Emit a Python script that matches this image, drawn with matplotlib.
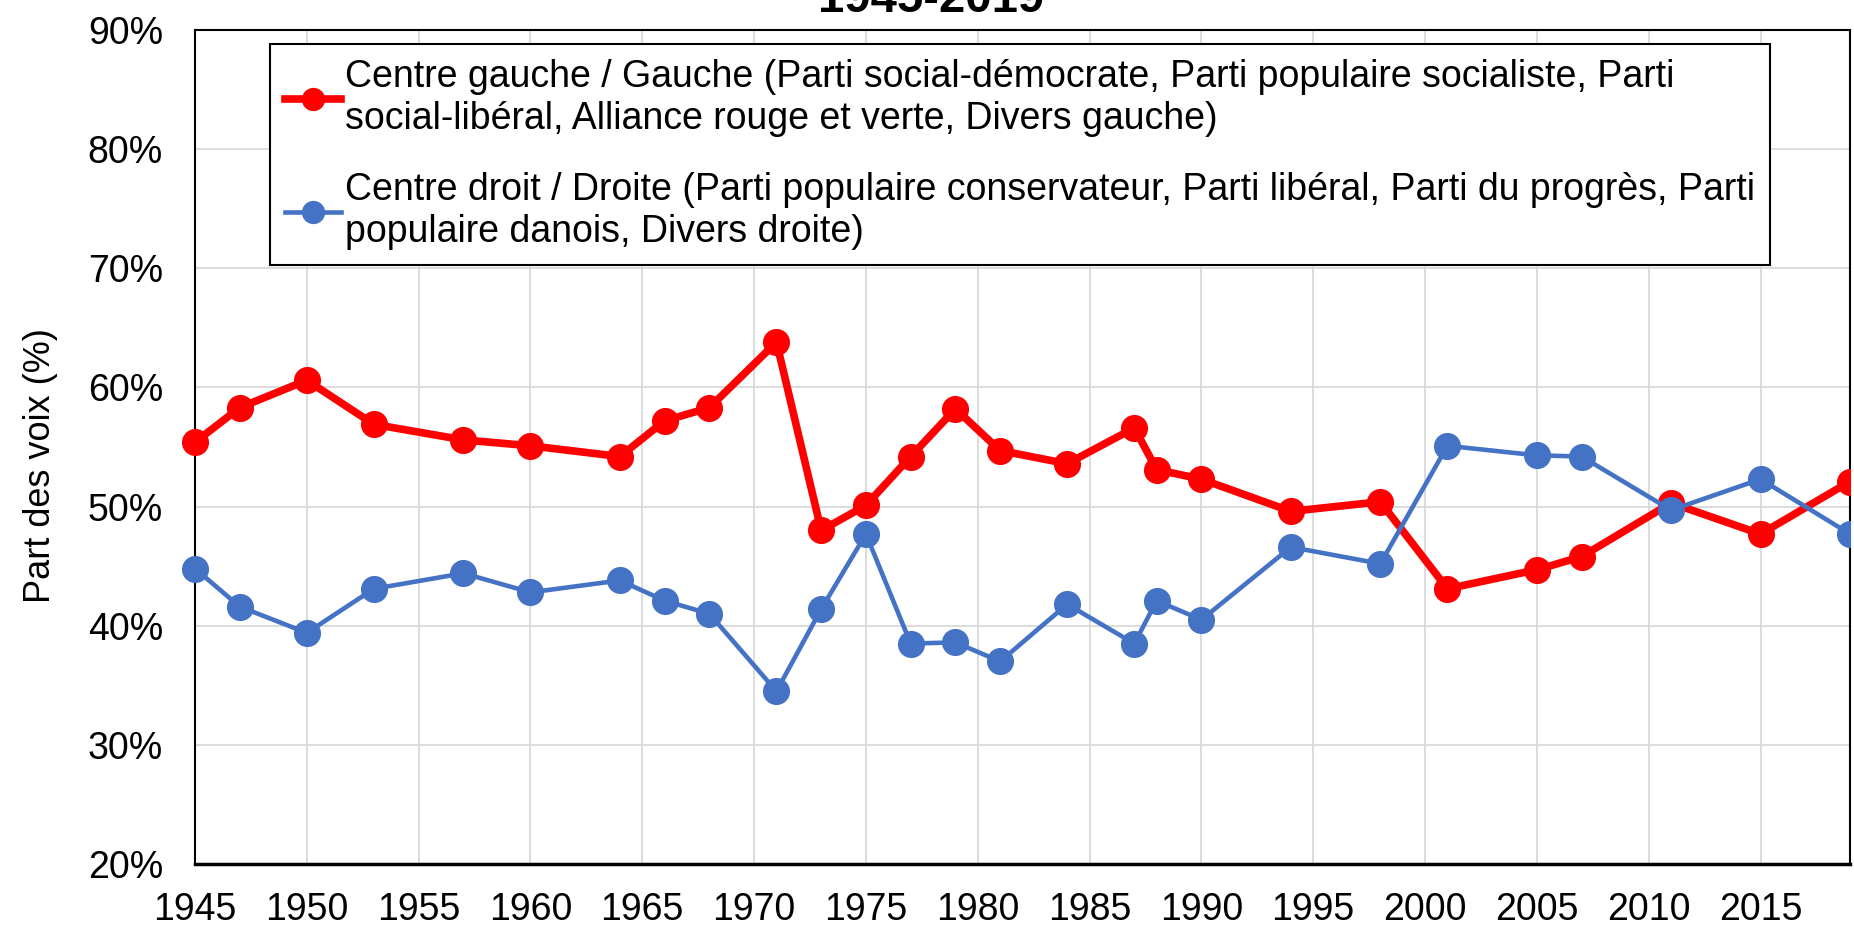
import numpy as np
import matplotlib
matplotlib.use('Agg')
import matplotlib.pyplot as plt
from matplotlib.patches import Rectangle

plt.rcParams['font.family'] = ['Liberation Sans', 'DejaVu Sans']

years = [1945, 1947, 1950, 1953, 1957, 1960, 1964, 1966, 1968, 1971, 1973, 1975,
         1977, 1979, 1981, 1984, 1987, 1988, 1990, 1994, 1998, 2001, 2005, 2007,
         2011, 2015, 2019]
gauche = [55.4, 58.3, 60.6, 56.9, 55.6, 55.1, 54.2, 57.2, 58.3, 63.8, 48.0, 50.1,
          54.2, 58.2, 54.7, 53.6, 56.6, 53.1, 52.3, 49.6, 50.4, 43.1, 44.7, 45.8,
          50.3, 47.7, 52.1]
droite = [44.8, 41.6, 39.4, 43.1, 44.4, 42.8, 43.8, 42.1, 41.0, 34.5, 41.4, 47.7,
          38.5, 38.6, 37.0, 41.8, 38.5, 42.1, 40.5, 46.6, 45.2, 55.1, 54.3, 54.2,
          49.7, 52.3, 47.7]

label_g = ('Centre gauche / Gauche (Parti social-démocrate, Parti populaire socialiste, Parti\n'
           'social-libéral, Alliance rouge et verte, Divers gauche)')
label_d = ('Centre droit / Droite (Parti populaire conservateur, Parti libéral, Parti du progrès, Parti\n'
           'populaire danois, Divers droite)')

RED = '#FF0000'
BLUE = '#4472C4'

fig = plt.figure(figsize=(18.54, 9.26), dpi=100)
ax = fig.add_axes([195 / 1854, 62 / 926, 1655 / 1854, 834 / 926])

l1, = ax.plot(years, gauche, color=RED, linewidth=5.5, marker='o', markersize=18.5,
              label=label_g, zorder=3)
l2, = ax.plot(years, droite, color=BLUE, linewidth=3.3, marker='o', markersize=18.5,
              label=label_d, zorder=3)
# markers at 1945 stay whole, those at 2019 are cut by the right edge
clip = Rectangle((-0.03, -0.05), 1.03, 1.1, transform=ax.transAxes, visible=False)
ax.add_patch(clip)
for ln in (l1, l2):
    ln.set_clip_path(clip)

ax.set_xlim(1945, 2019)
ax.set_ylim(20, 90)
ax.set_xticks(range(1945, 2016, 5))
ax.set_yticks(range(20, 91, 10))
ax.set_yticklabels([f'{v}%' for v in range(20, 91, 10)])
ax.tick_params(axis='both', length=0, labelsize=27)
ax.tick_params(axis='y', pad=23)
ax.tick_params(axis='x', pad=20)
ax.grid(True, color='#D9D9D9', linewidth=1.3)
ax.set_axisbelow(True)
for s in ax.spines.values():
    s.set_color('black')
    s.set_linewidth(1.5)
ax.spines['bottom'].set_linewidth(2.5)

ax.set_ylabel('Part des voix (%)', fontsize=26)
ax.yaxis.set_label_coords(-0.083, 0.478)

leg = ax.legend(loc='upper left', bbox_to_anchor=(0.0453, 0.983), borderaxespad=0,
                fontsize=27, frameon=True, fancybox=False, edgecolor='black',
                framealpha=1, handlelength=1.5, handletextpad=0.1,
                labelspacing=0.95, borderpad=0.4, markerscale=0.85)
leg.get_frame().set_linewidth(1.5)

fig.text(0.502, 1 - 12 / 926, '1945-2019', ha='center', va='baseline',
         fontsize=34, fontweight='bold')

fig.savefig('out.png', dpi=100)
